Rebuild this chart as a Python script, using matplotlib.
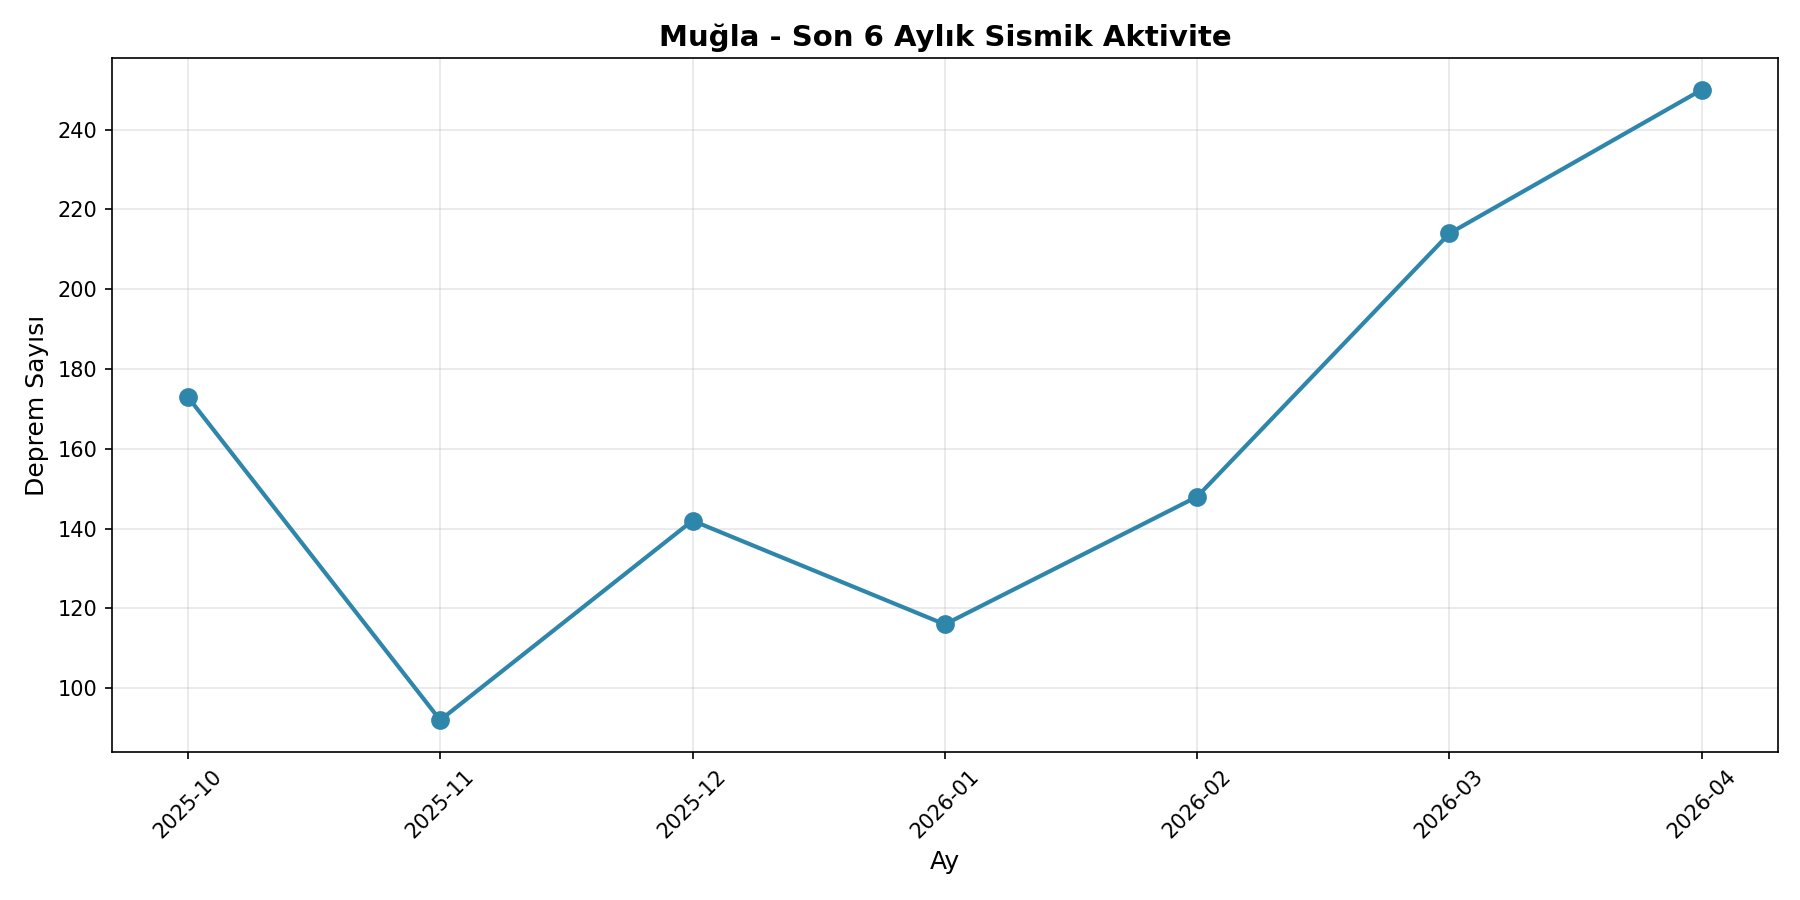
import matplotlib
matplotlib.use('Agg')
import matplotlib.pyplot as plt

months = ['2025-10', '2025-11', '2025-12', '2026-01', '2026-02', '2026-03', '2026-04']
counts = [173, 92, 142, 116, 148, 214, 250]

fig, ax = plt.subplots(figsize=(12, 6))
ax.plot(months, counts, marker='o', linewidth=2, markersize=8, color='#2E86AB')
ax.set_title('Muğla - Son 6 Aylık Sismik Aktivite', fontsize=14, fontweight='bold')
ax.set_xlabel('Ay', fontsize=12)
ax.set_ylabel('Deprem Sayısı', fontsize=12)
ax.grid(True, alpha=0.3)
plt.xticks(rotation=45)
plt.tight_layout()
plt.savefig('out.png', dpi=150)
